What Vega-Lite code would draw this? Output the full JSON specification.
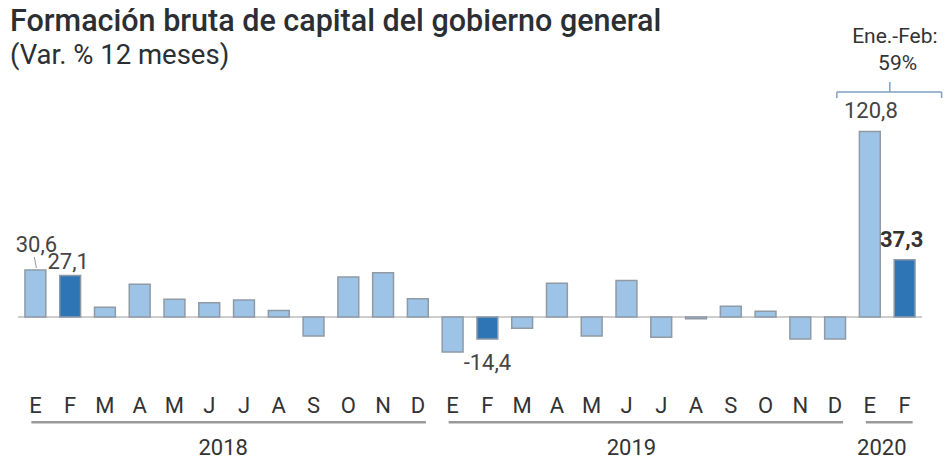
{
  "$schema": "https://vega.github.io/schema/vega-lite/v6.json",
  "width": 904,
  "height": 460,
  "autosize": {"type": "none"},
  "padding": {"left": 18, "top": 0, "right": 26, "bottom": 0},
  "background": "white",
  "title": {
    "text": "Formación bruta de capital del gobierno general",
    "subtitle": "(Var. % 12 meses)",
    "anchor": "start",
    "frame": "group",
    "dx": -8,
    "offset": -69,
    "font": "Roboto",
    "fontSize": 30.5,
    "fontWeight": 500,
    "color": "#2b2f33",
    "subtitleFont": "Roboto",
    "subtitleFontSize": 27.5,
    "subtitleColor": "#2b2f33",
    "subtitlePadding": 4
  },
  "config": {
    "view": {"stroke": null},
    "locale": {"number": {"decimal": ",", "thousands": ".", "grouping": [3], "currency": ["", ""], "minus": "-"}},
    "text": {"font": "Roboto"}
  },
  "data": {
    "values": [
      {"id": "2018-01", "mes": "E", "anio": "2018", "valor": 30.6, "grupo": "otro"},
      {"id": "2018-02", "mes": "F", "anio": "2018", "valor": 27.1, "grupo": "feb"},
      {"id": "2018-03", "mes": "M", "anio": "2018", "valor": 6.3, "grupo": "otro"},
      {"id": "2018-04", "mes": "A", "anio": "2018", "valor": 21.3, "grupo": "otro"},
      {"id": "2018-05", "mes": "M", "anio": "2018", "valor": 11.5, "grupo": "otro"},
      {"id": "2018-06", "mes": "J", "anio": "2018", "valor": 9.3, "grupo": "otro"},
      {"id": "2018-07", "mes": "J", "anio": "2018", "valor": 11.1, "grupo": "otro"},
      {"id": "2018-08", "mes": "A", "anio": "2018", "valor": 4.3, "grupo": "otro"},
      {"id": "2018-09", "mes": "S", "anio": "2018", "valor": -12.4, "grupo": "otro"},
      {"id": "2018-10", "mes": "O", "anio": "2018", "valor": 26.1, "grupo": "otro"},
      {"id": "2018-11", "mes": "N", "anio": "2018", "valor": 28.9, "grupo": "otro"},
      {"id": "2018-12", "mes": "D", "anio": "2018", "valor": 11.9, "grupo": "otro"},
      {"id": "2019-01", "mes": "E", "anio": "2019", "valor": -22.8, "grupo": "otro"},
      {"id": "2019-02", "mes": "F", "anio": "2019", "valor": -14.4, "grupo": "feb"},
      {"id": "2019-03", "mes": "M", "anio": "2019", "valor": -7.4, "grupo": "otro"},
      {"id": "2019-04", "mes": "A", "anio": "2019", "valor": 22.0, "grupo": "otro"},
      {"id": "2019-05", "mes": "M", "anio": "2019", "valor": -12.4, "grupo": "otro"},
      {"id": "2019-06", "mes": "J", "anio": "2019", "valor": 23.7, "grupo": "otro"},
      {"id": "2019-07", "mes": "J", "anio": "2019", "valor": -13.2, "grupo": "otro"},
      {"id": "2019-08", "mes": "A", "anio": "2019", "valor": -1.1, "grupo": "otro"},
      {"id": "2019-09", "mes": "S", "anio": "2019", "valor": 7.0, "grupo": "otro"},
      {"id": "2019-10", "mes": "O", "anio": "2019", "valor": 3.7, "grupo": "otro"},
      {"id": "2019-11", "mes": "N", "anio": "2019", "valor": -14.3, "grupo": "otro"},
      {"id": "2019-12", "mes": "D", "anio": "2019", "valor": -14.3, "grupo": "otro"},
      {"id": "2020-01", "mes": "E", "anio": "2020", "valor": 120.8, "grupo": "otro"},
      {"id": "2020-02", "mes": "F", "anio": "2020", "valor": 37.3, "grupo": "feb"}
    ]
  },
  "encoding": {
    "x": {
      "field": "id",
      "type": "ordinal",
      "sort": null,
      "scale": {"paddingInner": 0.4, "paddingOuter": 0.2},
      "axis": null
    },
    "y": {
      "field": "valor",
      "type": "quantitative",
      "scale": {"domain": [-93.16, 206.5], "nice": false, "zero": false},
      "axis": null
    }
  },
  "layer": [
    {
      "mark": {"type": "rule", "color": "#cccccc", "strokeWidth": 1.5},
      "encoding": {"x": null, "y": {"datum": 0}}
    },
    {
      "mark": {"type": "bar", "stroke": "#8f9aa5", "strokeWidth": 1.5},
      "encoding": {
        "y2": {"datum": 0},
        "color": {
          "field": "grupo",
          "type": "nominal",
          "scale": {"domain": ["otro", "feb"], "range": ["#9dc3e6", "#2e75b6"]},
          "legend": null
        }
      }
    },
    {
      "mark": {"type": "text", "fontSize": 22, "color": "#333333", "baseline": "middle"},
      "encoding": {"y": {"datum": -58}, "text": {"field": "mes"}}
    },
    {
      "transform": [{"filter": "datum.id == '2018-01'"}],
      "mark": {"type": "text", "fontSize": 22, "color": "#444444", "baseline": "alphabetic", "dy": -18, "dx": 1},
      "encoding": {"text": {"field": "valor", "type": "quantitative", "format": ".1f"}}
    },
    {
      "transform": [{"filter": "datum.id == '2018-01'"}],
      "mark": {"type": "rule", "color": "#999999", "strokeWidth": 1, "xOffset": 1, "x2Offset": -1},
      "encoding": {"y": {"datum": 31.9}, "y2": {"datum": 39.1}, "x2": {"field": "id"}}
    },
    {
      "transform": [{"filter": "datum.id == '2018-02'"}],
      "mark": {"type": "text", "fontSize": 22, "color": "#444444", "baseline": "alphabetic", "dy": -6, "dx": -2},
      "encoding": {"text": {"field": "valor", "type": "quantitative", "format": ".1f"}}
    },
    {
      "transform": [{"filter": "datum.id == '2019-02'"}],
      "mark": {"type": "text", "fontSize": 22, "color": "#444444", "baseline": "alphabetic", "dy": 31},
      "encoding": {"text": {"field": "valor", "type": "quantitative", "format": ".1f"}}
    },
    {
      "transform": [{"filter": "datum.id == '2020-01'"}],
      "mark": {"type": "text", "fontSize": 22, "color": "#444444", "baseline": "alphabetic", "dy": -14, "dx": 1},
      "encoding": {"text": {"field": "valor", "type": "quantitative", "format": ".1f"}}
    },
    {
      "transform": [{"filter": "datum.id == '2020-02'"}],
      "mark": {"type": "text", "fontSize": 22, "fontWeight": "bold", "color": "#333333", "baseline": "alphabetic", "dy": -13, "dx": -3},
      "encoding": {"text": {"field": "valor", "type": "quantitative", "format": ".1f"}}
    },
    {
      "transform": [
        {"joinaggregate": [{"op": "max", "field": "id", "as": "fin"}], "groupby": ["anio"]},
        {"filter": "datum.mes == 'E'"}
      ],
      "mark": {"type": "rule", "color": "#9a9a9a", "strokeWidth": 2.5, "xOffset": -4, "x2Offset": 8},
      "encoding": {"x2": {"field": "fin"}, "y": {"datum": -68.6}}
    },
    {
      "transform": [{"filter": "datum.id == '2018-06'"}],
      "mark": {"type": "text", "fontSize": 22, "color": "#333333", "baseline": "alphabetic", "dx": 14},
      "encoding": {"y": {"datum": -89.9}, "text": {"field": "anio"}}
    },
    {
      "transform": [{"filter": "datum.id == '2019-06'"}],
      "mark": {"type": "text", "fontSize": 22, "color": "#333333", "baseline": "alphabetic", "dx": 5},
      "encoding": {"y": {"datum": -89.9}, "text": {"field": "anio"}}
    },
    {
      "transform": [{"filter": "datum.id == '2020-01'"}],
      "mark": {"type": "text", "fontSize": 22, "color": "#333333", "baseline": "alphabetic", "dx": 12},
      "encoding": {"y": {"datum": -89.9}, "text": {"field": "anio"}}
    },
    {
      "transform": [{"filter": "datum.id == '2020-01'"}],
      "mark": {"type": "text", "fontSize": 21, "color": "#333333", "baseline": "alphabetic", "dx": 25},
      "encoding": {"y": {"datum": 178.5}, "text": {"value": "Ene.-Feb:"}}
    },
    {
      "transform": [{"filter": "datum.id == '2020-02'"}],
      "mark": {"type": "text", "fontSize": 21, "color": "#333333", "baseline": "alphabetic", "dx": -7},
      "encoding": {"y": {"datum": 160.9}, "text": {"value": "59%"}}
    },
    {
      "transform": [{"filter": "datum.id == '2020-01'"}],
      "mark": {"type": "rule", "color": "#7f9fc4", "strokeWidth": 1.5, "xOffset": -33, "x2Offset": 37},
      "encoding": {"x2": {"datum": "2020-02"}, "y": {"datum": 146.6}}
    },
    {
      "transform": [{"filter": "datum.id == '2020-01'"}],
      "mark": {"type": "rule", "color": "#7f9fc4", "strokeWidth": 1.5, "xOffset": -33},
      "encoding": {"y": {"datum": 146.6}, "y2": {"datum": 142.7}}
    },
    {
      "transform": [{"filter": "datum.id == '2020-02'"}],
      "mark": {"type": "rule", "color": "#7f9fc4", "strokeWidth": 1.5, "xOffset": 37},
      "encoding": {"y": {"datum": 146.6}, "y2": {"datum": 142.7}}
    },
    {
      "transform": [{"filter": "datum.id == '2020-01'"}],
      "mark": {"type": "rule", "color": "#7f9fc4", "strokeWidth": 1.5, "xOffset": 20},
      "encoding": {"y": {"datum": 146.6}, "y2": {"datum": 153.1}}
    }
  ]
}
